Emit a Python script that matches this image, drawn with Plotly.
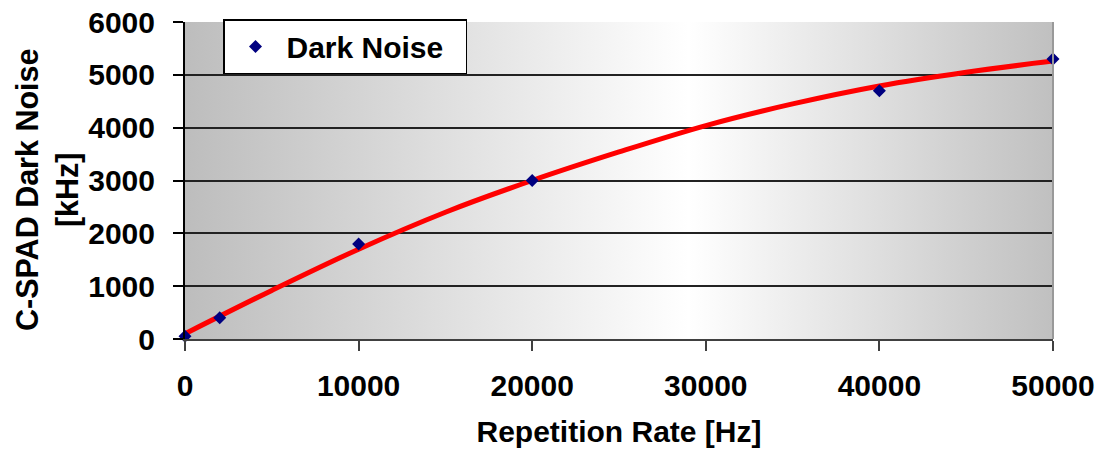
import base64
import plotly.graph_objects as go

# ---- data ----
rep_rate_hz = [0, 2000, 10000, 20000, 40000, 50000]
dark_noise_khz = [50, 400, 1800, 3000, 4700, 5300]

fit_x_hz = [0, 5000, 10000, 15000, 20000, 25000, 30000, 35000, 40000, 45000, 50000]
fit_y_khz = [100, 920, 1700, 2400, 3000, 3540, 4040, 4450, 4790, 5050, 5260]

x_ticks = [0, 10000, 20000, 30000, 40000, 50000]
y_ticks = [0, 1000, 2000, 3000, 4000, 5000, 6000]

X_RANGE = [0, 50000]
Y_RANGE = [0, 6000]

FONT = "Liberation Sans, Arial, sans-serif"

# horizontal grey-white-grey gradient for the plot background (svg image)
svg = (
    "<svg xmlns='http://www.w3.org/2000/svg' width='100' height='100' preserveAspectRatio='none'>"
    "<defs><linearGradient id='g' x1='0' x2='1' y1='0' y2='0'>"
    "<stop offset='0' stop-color='#bdbdbd'/>"
    "<stop offset='0.58' stop-color='#ffffff'/>"
    "<stop offset='1' stop-color='#c0c0c0'/>"
    "</linearGradient></defs>"
    "<rect width='100' height='100' fill='url(#g)'/></svg>"
)
svg_uri = "data:image/svg+xml;base64," + base64.b64encode(svg.encode()).decode()

fig = go.Figure()

fig.add_trace(go.Scatter(
    x=fit_x_hz, y=fit_y_khz, mode="lines", line=dict(color="#ff0000", width=5, shape="spline"),
    showlegend=False, hoverinfo="skip",
))
fig.add_trace(go.Scatter(
    x=rep_rate_hz, y=dark_noise_khz, mode="markers", name="Dark Noise\u00a0\u00a0",
    marker=dict(symbol="diamond", size=10, color="#000080"),
    cliponaxis=False,
))

fig.update_layout(
    width=1103, height=449,
    margin=dict(l=185, r=50, t=22, b=110),
    paper_bgcolor="white",
    plot_bgcolor="rgba(0,0,0,0)",
    font=dict(family=FONT, color="black"),
    images=[dict(source=svg_uri, xref="paper", yref="paper", x=0, y=1, sizex=1, sizey=1,
                 sizing="stretch", layer="below", xanchor="left", yanchor="top")],
    legend=dict(
        x=(223 - 185) / 868, y=1 + 3 / 317, xanchor="left", yanchor="top",
        bgcolor="white", bordercolor="black", borderwidth=1.5,
        itemwidth=52,
        font=dict(family=FONT, size=30, weight="bold", color="black"),
    ),
    shapes=[dict(type="line", xref="paper", yref="paper", x0=1, x1=1, y0=0, y1=1,
                 line=dict(color="#999999", width=2), layer="above")],
    annotations=[dict(
        text="C-SPAD Dark Noise<br>[kHz]", textangle=-90, showarrow=False,
        xref="paper", yref="paper", x=(47 - 185) / 868, y=(339 - 190) / 317,
        xanchor="center", yanchor="middle",
        font=dict(family=FONT, size=30.5, weight="bold", color="black"),
    )],
)

fig.update_xaxes(
    range=X_RANGE, tickvals=x_ticks, ticktext=[str(v) for v in x_ticks],
    showgrid=False, zeroline=False,
    showline=True, linecolor="#404040", linewidth=2,
    ticks="outside", ticklen=10, tickwidth=2, tickcolor="#404040",
    tickfont=dict(family=FONT, size=30, weight="bold", color="black"),
    ticklabelstandoff=9,
    title=dict(text="Repetition Rate [Hz]", font=dict(family=FONT, size=30, weight="bold", color="black"),
               standoff=20),
    automargin=False,
)
fig.update_yaxes(
    range=Y_RANGE, tickvals=y_ticks, ticktext=[str(v) for v in y_ticks],
    showgrid=True, gridcolor="#222222", gridwidth=1.5, zeroline=False,
    showline=True, linecolor="black", linewidth=2,
    ticks="outside", ticklen=10, tickwidth=1.5, tickcolor="black",
    tickfont=dict(family=FONT, size=30, weight="bold", color="black"),
    ticklabelstandoff=12,
    automargin=False,
)

fig.write_html("out.html")
